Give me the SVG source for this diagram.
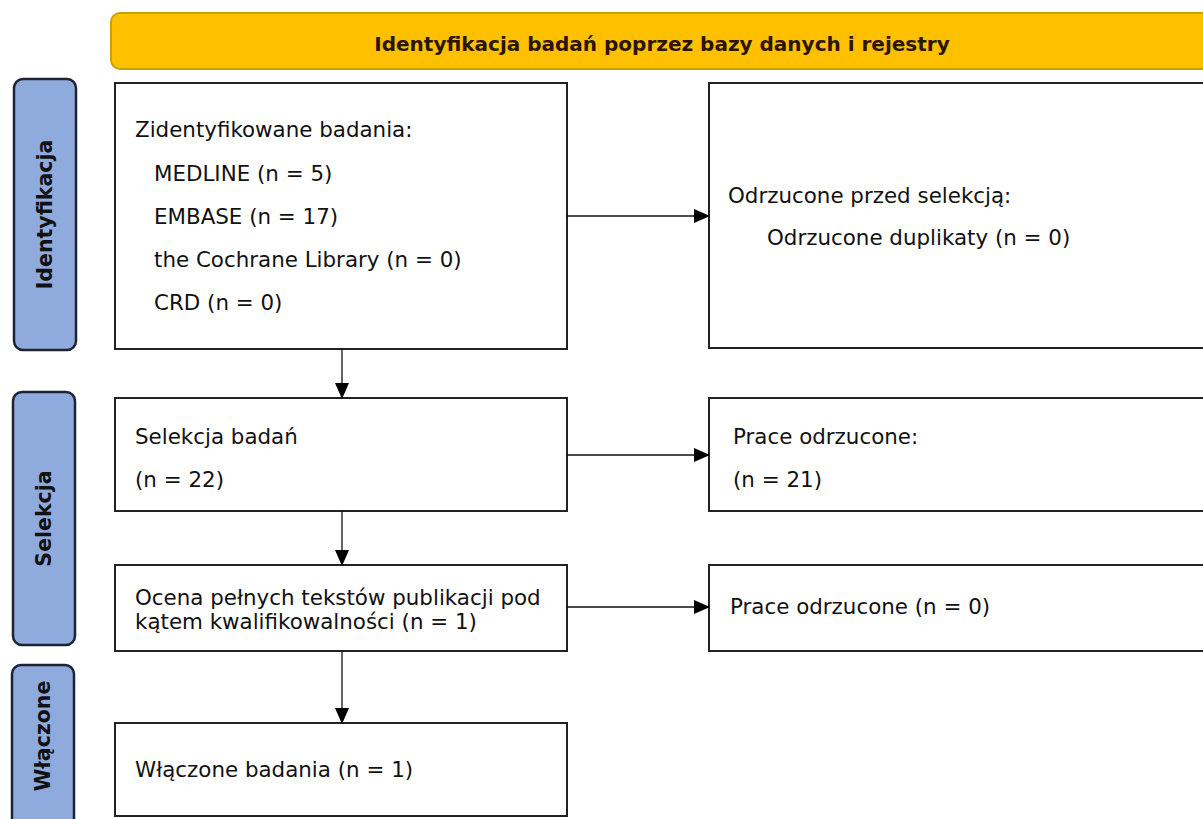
<svg xmlns="http://www.w3.org/2000/svg" width="1203" height="819" viewBox="0 0 1203 819">
<defs>
<marker id="ah" markerWidth="16" markerHeight="16" refX="15" refY="7" orient="auto" markerUnits="userSpaceOnUse" viewBox="0 0 16 14">
<path d="M0,0 L16,7 L0,14 z" fill="#000"/>
</marker>
<style>
.box{fill:#fff;stroke:#222;stroke-width:2}
.side{fill:#8FAADC;stroke:#1c2333;stroke-width:2.5}
.t{font-family:"DejaVu Sans",sans-serif;font-size:21.4px;fill:#111}
.st{font-family:"DejaVu Sans",sans-serif;font-size:20.5px;font-weight:bold;fill:#111}
.c{stroke:#111;stroke-width:1.3;fill:none;marker-end:url(#ah)}
</style>
</defs>
<rect width="1203" height="819" fill="#fff"/>
<g id="banner">
<rect x="111" y="13" width="1110" height="56" rx="9" fill="#FFC000" stroke="#C9A100" stroke-width="2"/>
<text x="662" y="51" text-anchor="middle" class="st" style="font-size:20px;fill:#2a1500">Identyfikacja badań poprzez bazy danych i rejestry</text>
</g>
<g id="side-identyfikacja">
<rect class="side" x="14" y="79" width="62" height="271" rx="9"/>
<text class="st" transform="translate(52,214.5) rotate(-90)" text-anchor="middle">Identyfikacja</text>
</g>
<g id="side-selekcja">
<rect class="side" x="13" y="392" width="62" height="253" rx="9"/>
<text class="st" transform="translate(51,518.5) rotate(-90)" text-anchor="middle">Selekcja</text>
</g>
<g id="side-wlaczone">
<rect class="side" x="12" y="665" width="62" height="170" rx="9"/>
<text class="st" transform="translate(50,736) rotate(-90)" text-anchor="middle">Włączone</text>
</g>
<g id="box-zidentyfikowane">
<rect class="box" x="115" y="83" width="452" height="266"/>
<text class="t" x="135" y="137">Zidentyfikowane badania:</text>
<text class="t" x="154" y="181">MEDLINE (n = 5)</text>
<text class="t" x="154" y="224">EMBASE (n = 17)</text>
<text class="t" x="154" y="267">the Cochrane Library (n = 0)</text>
<text class="t" x="154" y="310">CRD (n = 0)</text>
</g>
<g id="box-odrzucone-przed">
<rect class="box" x="709" y="83" width="510" height="265"/>
<text class="t" x="728" y="203">Odrzucone przed selekcją:</text>
<text class="t" x="767" y="245">Odrzucone duplikaty (n = 0)</text>
</g>
<g id="box-selekcja">
<rect class="box" x="115" y="398" width="452" height="113"/>
<text class="t" x="135" y="444">Selekcja badań</text>
<text class="t" x="135" y="487">(n = 22)</text>
</g>
<g id="box-prace-odrzucone">
<rect class="box" x="709" y="398" width="510" height="113"/>
<text class="t" x="733" y="444">Prace odrzucone:</text>
<text class="t" x="733" y="487">(n = 21)</text>
</g>
<g id="box-ocena">
<rect class="box" x="115" y="565" width="452" height="86"/>
<text class="t" x="135" y="605">Ocena pełnych tekstów publikacji pod</text>
<text class="t" x="135" y="629">kątem kwalifikowalności (n = 1)</text>
</g>
<g id="box-prace-odrzucone-0">
<rect class="box" x="709" y="565" width="510" height="86"/>
<text class="t" x="730" y="614">Prace odrzucone (n = 0)</text>
</g>
<g id="box-wlaczone">
<rect class="box" x="115" y="723" width="452" height="93"/>
<text class="t" x="135" y="777">Włączone badania (n = 1)</text>
</g>
<g id="connectors">
<line class="c" x1="567" y1="216" x2="709" y2="216"/>
<line class="c" x1="342" y1="349" x2="342" y2="398"/>
<line class="c" x1="567" y1="455" x2="709" y2="455"/>
<line class="c" x1="342" y1="511" x2="342" y2="565"/>
<line class="c" x1="567" y1="607" x2="709" y2="607"/>
<line class="c" x1="342" y1="651" x2="342" y2="723"/>
</g>
</svg>
